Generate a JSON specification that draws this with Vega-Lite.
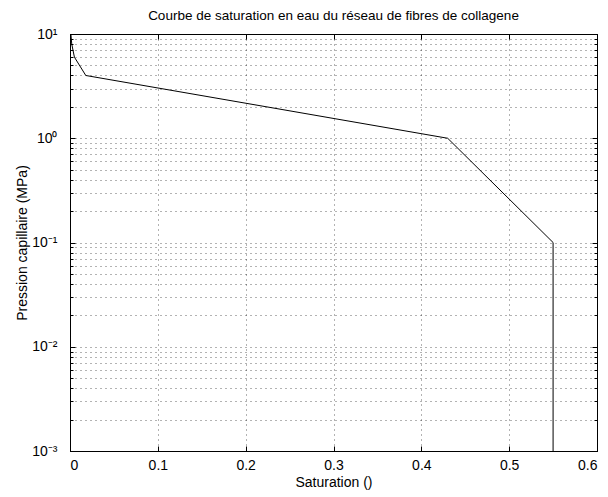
{
  "$schema": "https://vega.github.io/schema/vega-lite/v6.json",
  "autosize": "none",
  "width": 527,
  "height": 417,
  "padding": {"left": 70, "top": 34, "right": 11, "bottom": 46},
  "background": "white",
  "title": {
    "text": "Courbe de saturation en eau du réseau de fibres de collagene",
    "font": "Liberation Sans",
    "fontSize": 13.5,
    "fontWeight": "normal",
    "color": "#000",
    "anchor": "middle",
    "offset": 5
  },
  "config": {
    "view": {"stroke": "#000", "strokeWidth": 1},
    "axis": {
      "labelFont": "Liberation Sans",
      "titleFont": "Liberation Sans",
      "labelColor": "#000",
      "titleColor": "#000",
      "titleFontWeight": "normal",
      "domainColor": "#000",
      "tickColor": "#000",
      "labelFontSize": 14,
      "titleFontSize": 14
    }
  },
  "data": {
    "values": [
      {"step": 0, "saturation": 0.001, "pression": 10},
      {"step": 1, "saturation": 0.002, "pression": 8},
      {"step": 2, "saturation": 0.005, "pression": 6},
      {"step": 3, "saturation": 0.018, "pression": 4},
      {"step": 4, "saturation": 0.43, "pression": 1},
      {"step": 5, "saturation": 0.55, "pression": 0.1},
      {"step": 6, "saturation": 0.55, "pression": 0.001}
    ]
  },
  "layer": [
    {
      "mark": {"type": "line", "color": "#000", "strokeWidth": 1, "clip": true},
      "encoding": {
        "order": {"field": "step", "type": "quantitative"},
        "x": {
          "field": "saturation",
          "type": "quantitative",
          "scale": {"domain": [0, 0.6], "nice": false, "zero": false},
          "axis": {
            "orient": "bottom",
            "values": [0, 0.1, 0.2, 0.3, 0.4, 0.5, 0.6],
            "format": "~g",
            "grid": true,
            "gridColor": "#000",
            "gridOpacity": 0.6,
            "gridDash": [1, 4],
            "tickSize": -5,
            "labelPadding": 12,
            "title": "Saturation ()",
            "titlePadding": 3
          }
        },
        "y": {
          "field": "pression",
          "type": "quantitative",
          "scale": {"type": "log", "domain": [0.001, 10], "nice": false},
          "axis": {
            "orient": "left",
            "values": [0.001, 0.002, 0.003, 0.004, 0.005, 0.006, 0.007, 0.008, 0.009,
                       0.01, 0.02, 0.03, 0.04, 0.05, 0.06, 0.07, 0.08, 0.09,
                       0.1, 0.2, 0.3, 0.4, 0.5, 0.6, 0.7, 0.8, 0.9,
                       1, 2, 3, 4, 5, 6, 7, 8, 9, 10],
            "labelExpr": "datum.value == 10 ? '10¹' : datum.value == 1 ? '10⁰' : datum.value == 0.1 ? '10⁻¹' : datum.value == 0.01 ? '10⁻²' : datum.value == 0.001 ? '10⁻³' : ''",
            "labelOverlap": false,
            "grid": true,
            "gridColor": "#000",
            "gridOpacity": 0.6,
            "gridDash": [1, 4],
            "tickSize": {
              "condition": {"test": "datum.value == 10 || datum.value == 1 || datum.value == 0.1 || datum.value == 0.01 || datum.value == 0.001", "value": -5},
              "value": -3
            },
            "labelPadding": 18,
            "title": "Pression capillaire (MPa)",
            "titlePadding": 2
          }
        }
      }
    },
    {
      "mark": {"type": "line", "strokeOpacity": 0},
      "encoding": {
        "order": {"field": "step", "type": "quantitative"},
        "x": {
          "field": "saturation",
          "type": "quantitative",
          "axis": {
            "orient": "top",
            "values": [0, 0.1, 0.2, 0.3, 0.4, 0.5, 0.6],
            "labels": false,
            "grid": false,
            "tickSize": -5,
            "title": null
          }
        },
        "y": {
          "field": "pression",
          "type": "quantitative",
          "axis": {
            "orient": "right",
            "values": [0.001, 0.002, 0.003, 0.004, 0.005, 0.006, 0.007, 0.008, 0.009,
                       0.01, 0.02, 0.03, 0.04, 0.05, 0.06, 0.07, 0.08, 0.09,
                       0.1, 0.2, 0.3, 0.4, 0.5, 0.6, 0.7, 0.8, 0.9,
                       1, 2, 3, 4, 5, 6, 7, 8, 9, 10],
            "labels": false,
            "grid": false,
            "tickSize": {
              "condition": {"test": "datum.value == 10 || datum.value == 1 || datum.value == 0.1 || datum.value == 0.01 || datum.value == 0.001", "value": -5},
              "value": -3
            },
            "title": null
          }
        }
      }
    }
  ],
  "resolve": {"axis": {"x": "independent", "y": "independent"}}
}
